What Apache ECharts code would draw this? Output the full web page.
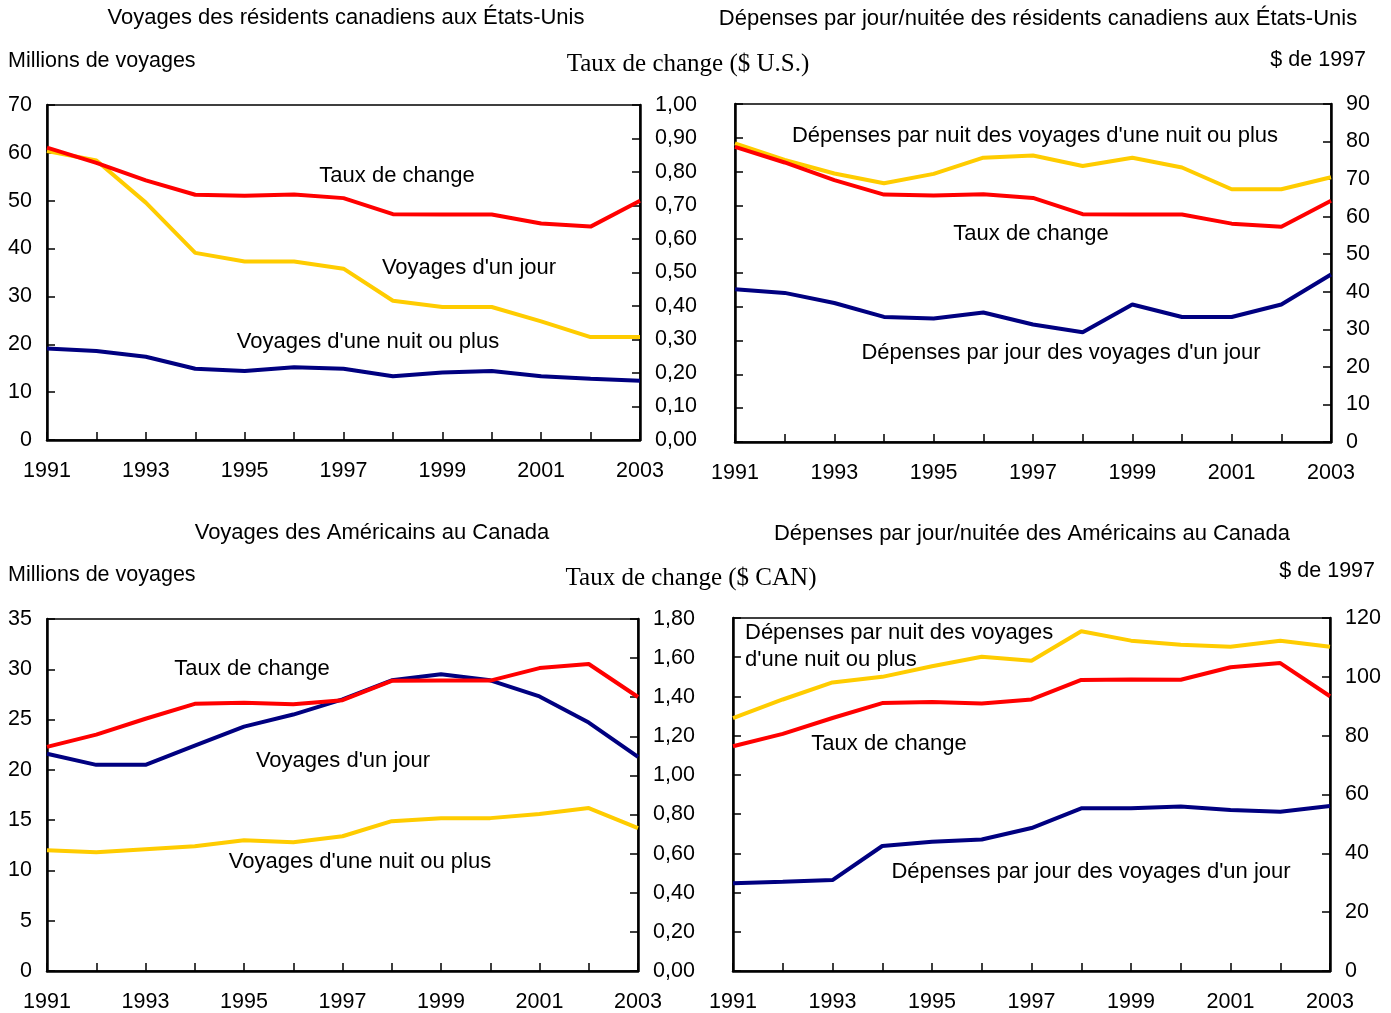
<!DOCTYPE html>
<html>
<head>
<meta charset="utf-8">
<script src="https://cdn.jsdelivr.net/npm/echarts@6/dist/echarts.min.js"></script>
<style>
  html, body { margin: 0; padding: 0; background: #fff; }
  #chart { width: 1391px; height: 1013px; }
</style>
</head>
<body>
<div id="chart"></div>
<script>
// années
const years = ['1991', '1992', '1993', '1994', '1995', '1996', '1997', '1998', '1999', '2000', '2001', '2002', '2003']

// taux de change
const usdRate = [0.873, 0.827, 0.775, 0.732, 0.729, 0.733, 0.722, 0.674, 0.673, 0.673, 0.646, 0.637, 0.714]
const cadRate = [1.146, 1.209, 1.290, 1.366, 1.372, 1.364, 1.385, 1.484, 1.486, 1.485, 1.549, 1.570, 1.401]

// Canadiens aux États-Unis (millions de voyages)
const caDayTrips = [60.4, 58.4, 49.6, 39.1, 37.3, 37.3, 35.8, 29.1, 27.8, 27.8, 24.8, 21.5, 21.5]
const caNightTrips = [19.1, 18.6, 17.4, 14.9, 14.4, 15.2, 14.9, 13.3, 14.1, 14.4, 13.3, 12.8, 12.4]

// Canadiens aux États-Unis ($ de 1997)
const caNightSpend = [79.5, 75.1, 71.5, 68.9, 71.4, 75.7, 76.3, 73.5, 75.7, 73.1, 67.3, 67.3, 70.5]
const caDaySpend = [40.7, 39.7, 37.0, 33.3, 32.9, 34.5, 31.3, 29.2, 36.6, 33.3, 33.3, 36.6, 44.6]

// Américains au Canada (millions de voyages)
const usDayTrips = [21.6, 20.5, 20.5, 22.4, 24.3, 25.5, 27.0, 28.9, 29.5, 28.9, 27.3, 24.7, 21.3]
const usNightTrips = [12.0, 11.8, 12.1, 12.4, 13.0, 12.8, 13.4, 14.9, 15.2, 15.2, 15.6, 16.2, 14.2]

// Américains au Canada ($ de 1997)
const usNightSpend = [86.0, 92.3, 98.1, 100.0, 103.6, 106.8, 105.5, 115.5, 112.3, 110.9, 110.2, 112.3, 110.2]
const usDaySpend = [29.8, 30.3, 30.9, 42.5, 43.9, 44.7, 48.6, 55.3, 55.3, 55.9, 54.7, 54.1, 56.1]

const RED = '#ff0000'
const YELLOW = '#ffcc00'
const NAVY = '#000080'
const FONT = 'Liberation Sans, Arial, sans-serif'
const SERIF = 'Liberation Serif, Times New Roman, serif'

const chart = echarts.init(document.getElementById('chart'))

const grids = [
  { left: 47, top: 105, width: 593, height: 335 },
  { left: 735, top: 104, width: 596, height: 338 },
  { left: 47, top: 619, width: 591, height: 353 },
  { left: 733, top: 618, width: 597, height: 354 }
].map(g => Object.assign({ show: true, borderColor: '#000', borderWidth: 1.5, containLabel: false }, g))

function xAxis (gridIndex) {
  return {
    type: 'category',
    gridIndex,
    data: years,
    boundaryGap: false,
    axisLine: { lineStyle: { color: '#000', width: 2.5 } },
    axisTick: { inside: true, interval: 0, length: 8, lineStyle: { color: '#000', width: 1.5 } },
    axisLabel: { interval: 1, margin: 20, color: '#000', fontSize: 21.5, fontFamily: FONT },
    splitLine: { show: false }
  }
}

function yAxis (gridIndex, position, max, interval, showLabel, decimals) {
  return {
    type: 'value',
    gridIndex,
    position,
    min: 0,
    max,
    interval,
    axisLine: { show: true, lineStyle: { color: '#000', width: 2.5 } },
    axisTick: { show: true, inside: true, length: 8, lineStyle: { color: '#000', width: 1.5 } },
    axisLabel: {
      show: showLabel,
      margin: 15,
      color: '#000',
      fontSize: 21.5,
      fontFamily: FONT,
      formatter: v => decimals ? v.toFixed(decimals).replace('.', ',') : String(v)
    },
    splitLine: { show: false }
  }
}

function line (name, data, color, xi, yi) {
  return {
    name,
    type: 'line',
    xAxisIndex: xi,
    yAxisIndex: yi,
    data,
    symbol: 'none',
    lineStyle: { color, width: 4 },
    itemStyle: { color },
    z: color === RED ? 3 : 2,
    animation: false
  }
}

function txt (x, y, text, opts) {
  return {
    type: 'text',
    x,
    y,
    style: Object.assign({
      text,
      fill: '#000',
      font: '22px ' + FONT,
      textAlign: 'center',
      textVerticalAlign: 'middle'
    }, opts || {})
  }
}

const AXNAME = '21.5px ' + FONT
const SERIFNAME = '25px ' + SERIF

const option = {
  backgroundColor: '#fff',
  animation: false,
  grid: grids,
  xAxis: [xAxis(0), xAxis(1), xAxis(2), xAxis(3)],
  yAxis: [
    yAxis(0, 'left', 70, 10, true, 0),
    yAxis(0, 'right', 1, 0.1, true, 2),
    yAxis(1, 'left', 1, 0.1, false, 2),
    yAxis(1, 'right', 90, 10, true, 0),
    yAxis(2, 'left', 35, 5, true, 0),
    yAxis(2, 'right', 1.8, 0.2, true, 2),
    yAxis(3, 'left', 1.8, 0.2, false, 2),
    yAxis(3, 'right', 120, 20, true, 0)
  ],
  series: [
    line('Voyages d\'un jour', caDayTrips, YELLOW, 0, 0),
    line('Voyages d\'une nuit ou plus', caNightTrips, NAVY, 0, 0),
    line('Taux de change', usdRate, RED, 0, 1),

    line('Dépenses par nuit', caNightSpend, YELLOW, 1, 3),
    line('Dépenses par jour', caDaySpend, NAVY, 1, 3),
    line('Taux de change', usdRate, RED, 1, 2),

    line('Voyages d\'un jour', usDayTrips, NAVY, 2, 4),
    line('Voyages d\'une nuit ou plus', usNightTrips, YELLOW, 2, 4),
    line('Taux de change', cadRate, RED, 2, 5),

    line('Dépenses par nuit', usNightSpend, YELLOW, 3, 7),
    line('Dépenses par jour', usDaySpend, NAVY, 3, 7),
    line('Taux de change', cadRate, RED, 3, 6)
  ],
  graphic: [
    // en-têtes du haut
    txt(346, 18, 'Voyages des résidents canadiens aux États-Unis'),
    txt(1038, 19, 'Dépenses par jour/nuitée des résidents canadiens aux États-Unis'),
    txt(8, 61, 'Millions de voyages', { textAlign: 'left', font: AXNAME }),
    txt(688, 64, 'Taux de change ($ U.S.)', { font: SERIFNAME }),
    txt(1366, 60, '$ de 1997', { textAlign: 'right', font: AXNAME }),
    // étiquettes graphique 1
    txt(397, 176, 'Taux de change'),
    txt(469, 268, 'Voyages d\'un jour'),
    txt(368, 342, 'Voyages d\'une nuit ou plus'),
    // étiquettes graphique 2
    txt(1035, 136, 'Dépenses par nuit des voyages d\'une nuit ou plus'),
    txt(1031, 234, 'Taux de change'),
    txt(1061, 353, 'Dépenses par jour des voyages d\'un jour'),
    // en-têtes du bas
    txt(372, 533, 'Voyages des Américains au Canada'),
    txt(1032, 534, 'Dépenses par jour/nuitée des Américains au Canada'),
    txt(8, 575, 'Millions de voyages', { textAlign: 'left', font: AXNAME }),
    txt(691, 578, 'Taux de change ($ CAN)', { font: SERIFNAME }),
    txt(1375, 571, '$ de 1997', { textAlign: 'right', font: AXNAME }),
    // étiquettes graphique 3
    txt(252, 669, 'Taux de change'),
    txt(343, 761, 'Voyages d\'un jour'),
    txt(360, 862, 'Voyages d\'une nuit ou plus'),
    // étiquettes graphique 4
    txt(745, 633, 'Dépenses par nuit des voyages', { textAlign: 'left' }),
    txt(745, 660, 'd\'une nuit ou plus', { textAlign: 'left' }),
    txt(889, 744, 'Taux de change'),
    txt(1091, 872, 'Dépenses par jour des voyages d\'un jour')
  ]
}

chart.setOption(option)
</script>
</body>
</html>
